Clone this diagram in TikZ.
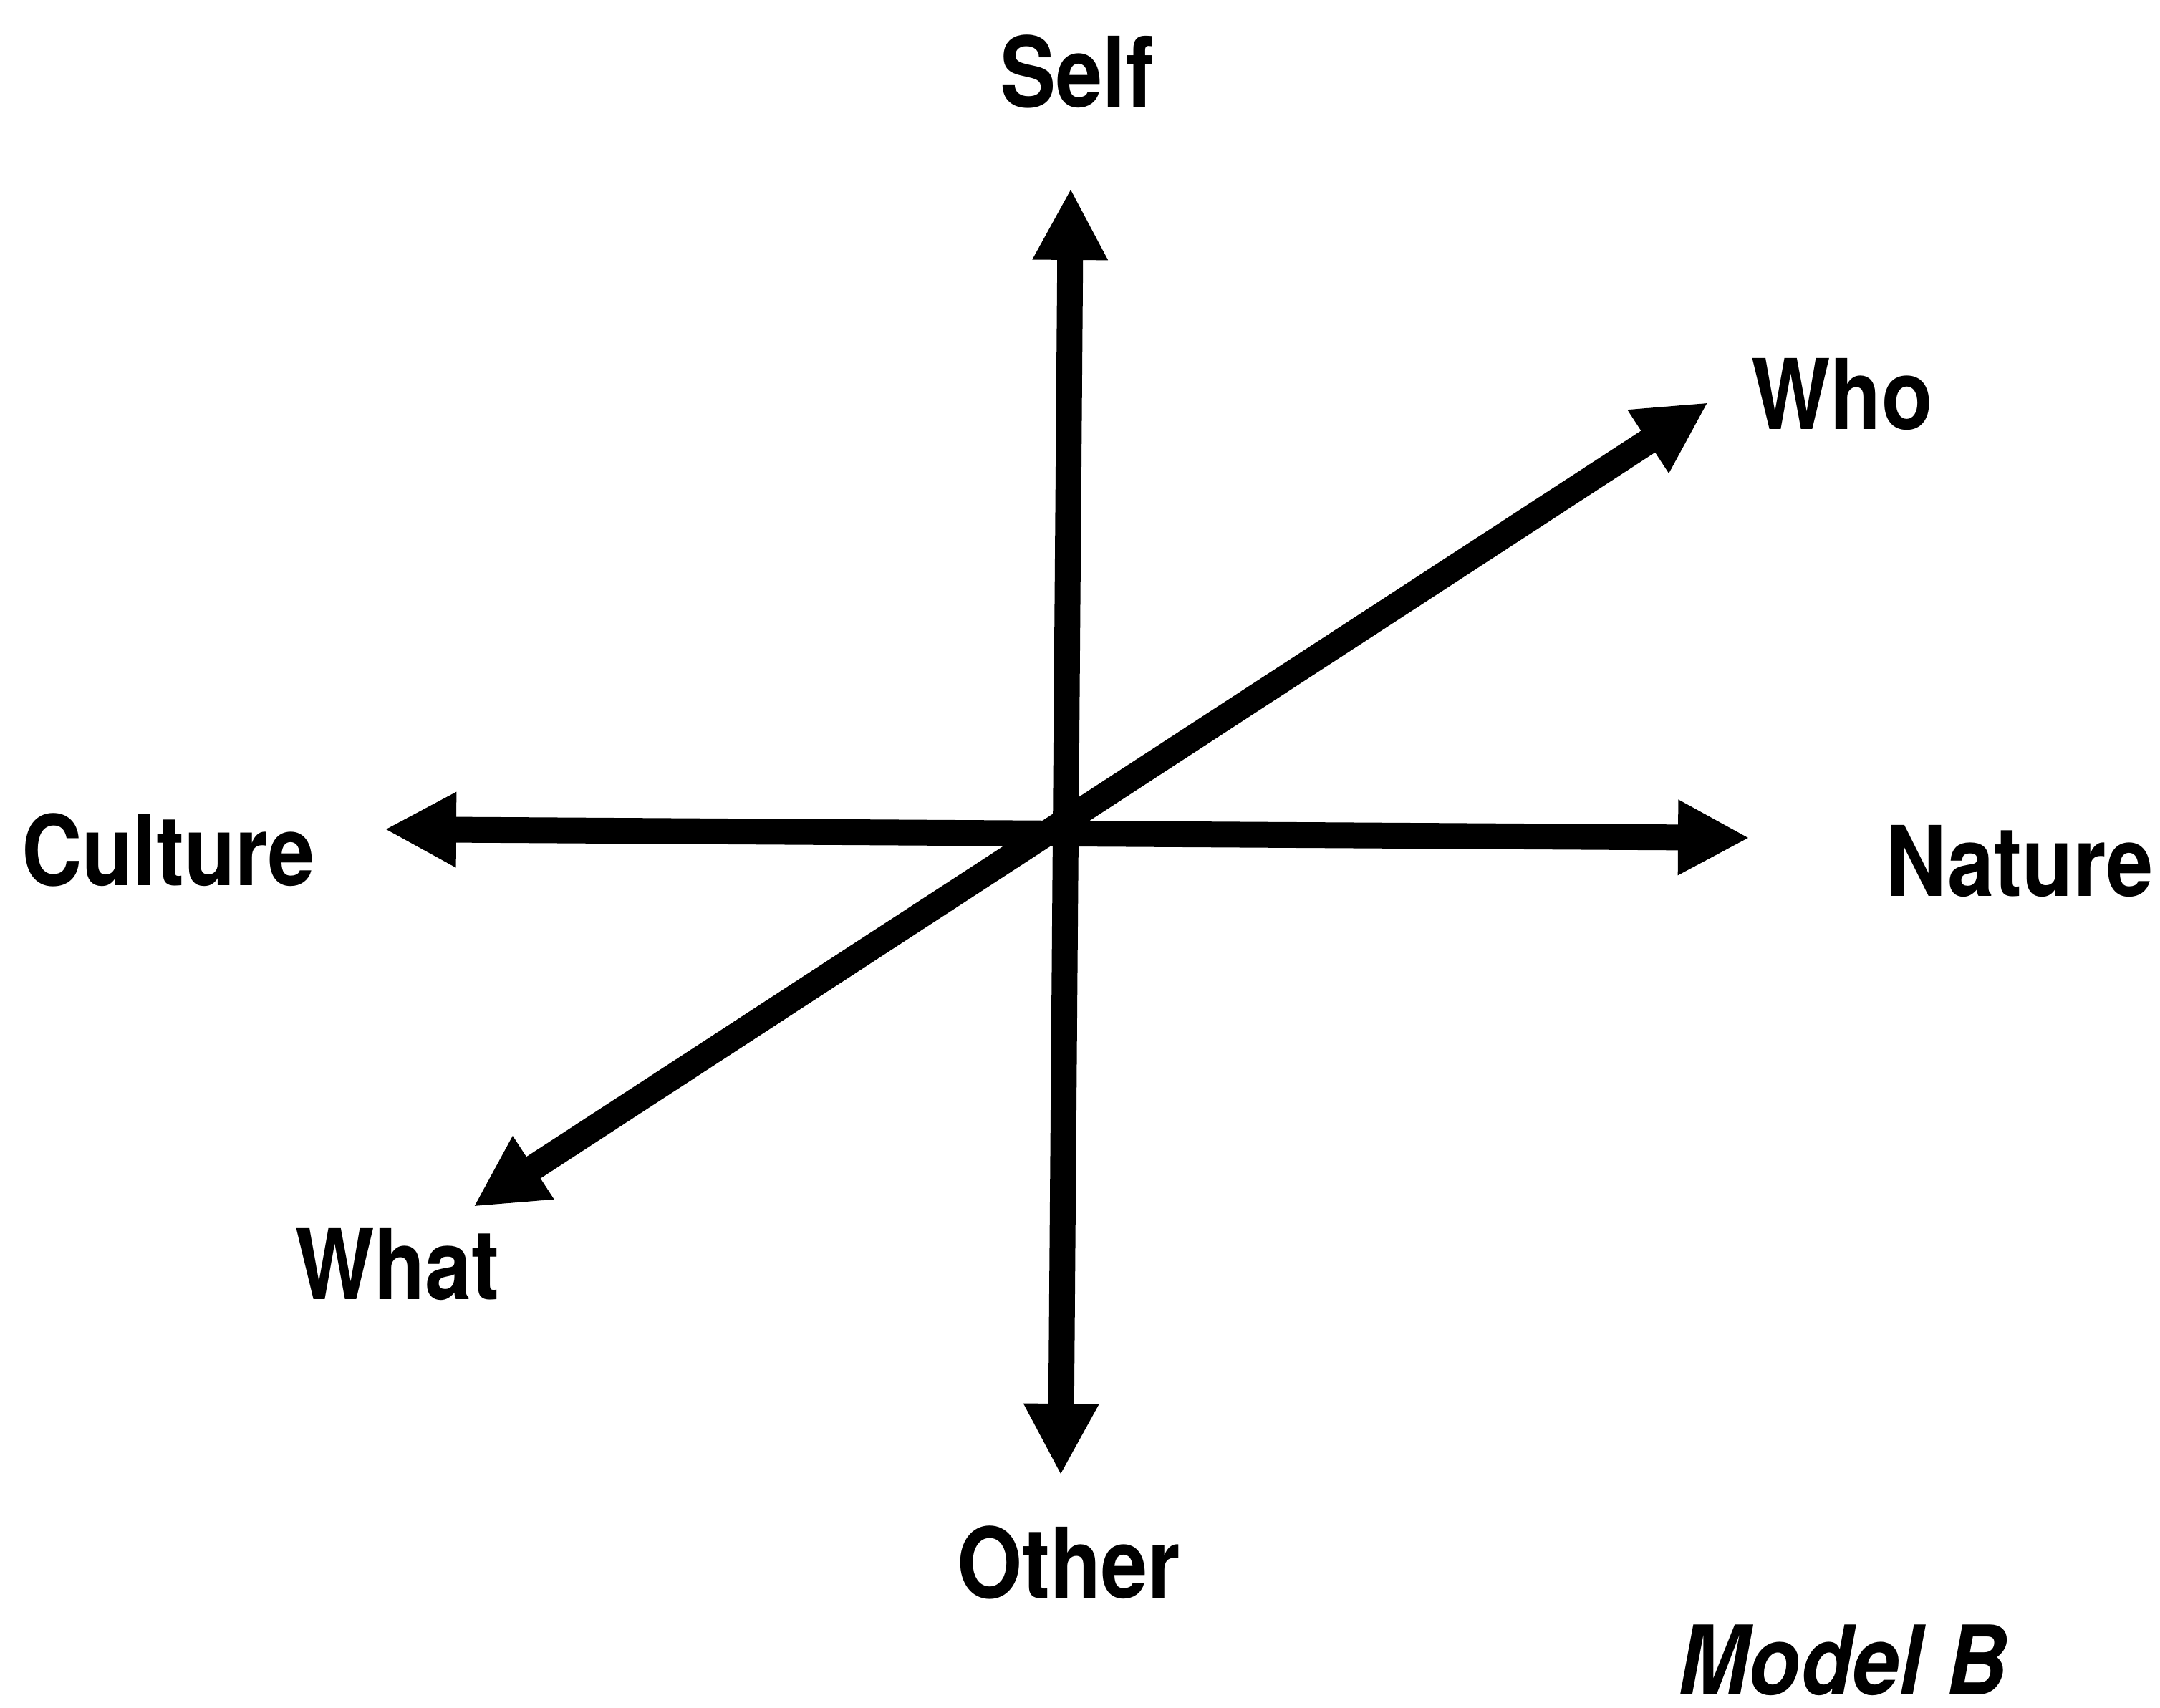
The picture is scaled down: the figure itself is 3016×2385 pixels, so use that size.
\documentclass[tikz,border=0pt]{standalone}
\usepackage{fontspec}
\setmainfont{TeX Gyre Heros}
\usetikzlibrary{arrows.meta}
\tikzset{
  axisarrow/.style={line width=3.6bp, line cap=butt,
    {Triangle[length=10bp,width=9.8bp]}-{Triangle[length=10bp,width=9.8bp]}},
  lbl/.style={inner sep=0pt, anchor=base, font=\fontsize{13.6bp}{16bp}\selectfont\bfseries, xscale=0.86},
  mdl/.style={inner sep=0pt, anchor=base, font=\fontsize{13.4bp}{16bp}\selectfont\bfseries\itshape, xscale=0.88}
}
\begin{document}
\begin{tikzpicture}[x=0.1bp,y=-0.1bp]
\useasboundingbox (0,0) rectangle (3016,2385);
% axis end points
\coordinate (top) at (1495,263);
\coordinate (bottom) at (1481,2060);
\coordinate (left) at (537,1158);
\coordinate (right) at (2443,1170);
\coordinate (whoend) at (2385,562);
\coordinate (whatend) at (661,1685);
% arrows
\draw[axisarrow] (bottom) -- (top);
\draw[axisarrow] (left) -- (right);
\draw[axisarrow] (whatend) -- (whoend);
% labels
\node[lbl] (self) at (1504,150) {Self};
\node[lbl] (other) at (1492,2231) {Other};
\node[lbl] (culture) at (235,1237) {Culture};
\node[lbl] (nature) at (2820,1252) {Nature};
\node[lbl] (who) at (2572,600) {Who};
\node[lbl] (what) at (555,1815) {What};
\node[mdl] (model) at (2573,2366) {Model B};
\end{tikzpicture}
\end{document}
